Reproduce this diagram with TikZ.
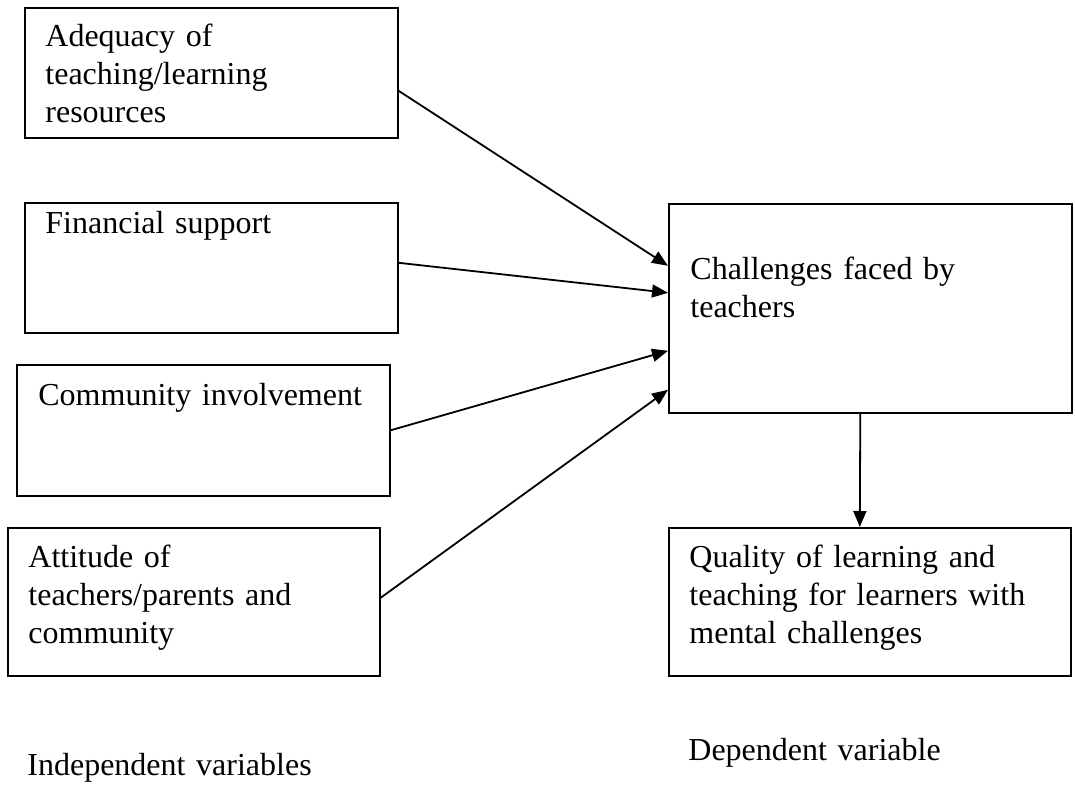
\documentclass[tikz,border=0pt]{standalone}
\usepackage{fontspec}
\setmainfont{Liberation Serif}
\usetikzlibrary{arrows.meta,calc}
\tikzset{>={Triangle[length=8pt,width=6.5pt]}}
\newcommand*{\boxtext}{\fontsize{16}{19}\selectfont}

\begin{document}
\begin{tikzpicture}[x=0.5pt,y=-0.5pt,
  varbox/.style={draw,line width=0.8pt,inner sep=0pt,anchor=north west},
  vartext/.style={font=\boxtext,inner sep=0pt,anchor=base west,text width=200pt,align=left},
  link/.style={->,line width=0.9pt}]
\useasboundingbox (0,0) rectangle (1075,786);
\node[varbox,minimum width=186.5pt,minimum height=65pt] (res) at (24,7) {};
\node[varbox,minimum width=186.5pt,minimum height=65pt] (fin) at (24,202) {};
\node[varbox,minimum width=186.5pt,minimum height=65.5pt] (com) at (16,364) {};
\node[varbox,minimum width=186pt,minimum height=74pt] (att) at (7,527) {};
\node[varbox,minimum width=201.5pt,minimum height=104.5pt] (chal) at (668,203) {};
\node[varbox,minimum width=201pt,minimum height=74pt] (qual) at (668,527) {};
\node[vartext] (resT) at (45,47) {Adequacy of\\teaching/learning\\resources};
\node[vartext] (finT) at (45,234) {Financial support};
\node[vartext] (comT) at (38,405) {Community involvement};
\node[vartext] (attT) at (28,567) {Attitude of\\teachers/parents and\\community};
\node[vartext] (chalT) at (690,279) {Challenges faced by\\teachers};
\node[vartext] (qualT) at (689,567) {Quality of learning and\\teaching for learners with\\mental challenges};
\node[vartext] (indep) at (27,775) {Independent variables};
\node[vartext] (dep) at (688,760) {Dependent variable};
\draw[link] ([yshift=-9pt]res.east) -- ([yshift=21.25pt]chal.west);
\draw[link] ([yshift=2.5pt]fin.east) -- ([yshift=7.75pt]chal.west);
\draw[link] (com.east) -- ([yshift=-21.25pt]chal.west);
\draw[link] ([yshift=2pt]att.east) -- ([yshift=-40.75pt]chal.west);
\draw[link] ([xshift=-5pt]chal.south) -- ([xshift=-5pt]qual.north);
\end{tikzpicture}
\end{document}
